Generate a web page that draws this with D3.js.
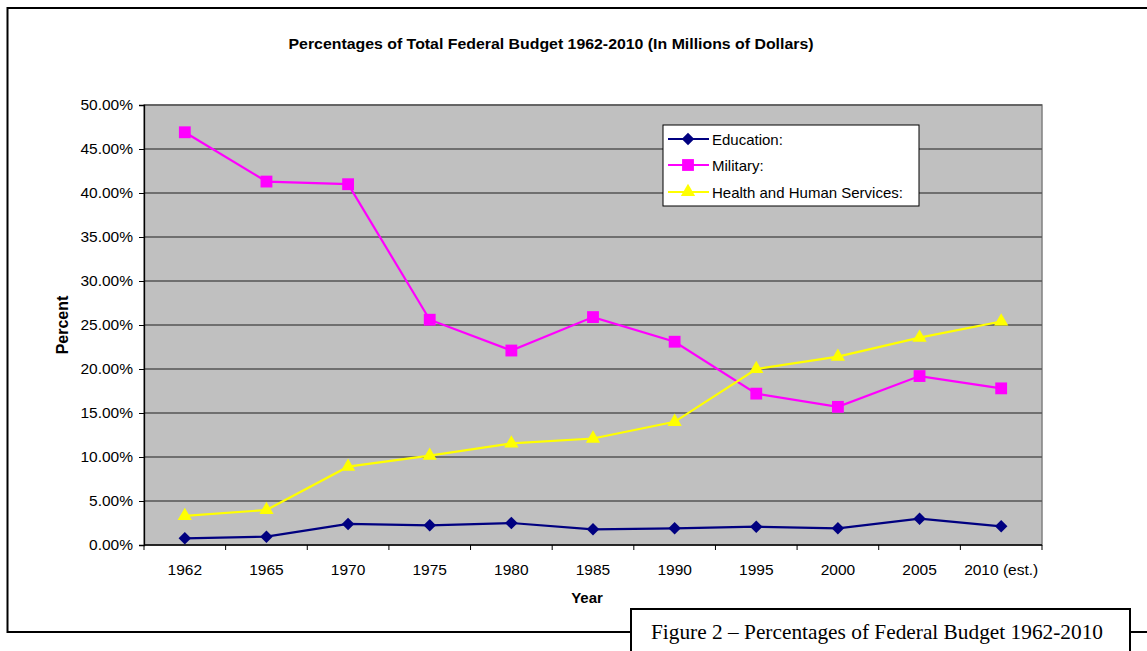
<!DOCTYPE html>
<html><head><meta charset="utf-8">
<script src="https://cdn.jsdelivr.net/npm/d3@7"></script>
<style>body{margin:0;background:#fff;} svg{display:block;}</style>
</head><body>
<svg id="c" width="1147" height="651"></svg>
<script>
const categories = ["1962","1965","1970","1975","1980","1985","1990","1995","2000","2005","2010 (est.)"];
const education = [0.76,0.95,2.39,2.24,2.50,1.78,1.90,2.08,1.90,2.99,2.12];
const military = [46.9,41.3,41.0,25.6,22.1,25.9,23.1,17.2,15.7,19.2,17.8];
const health = [3.3,3.98,8.9,10.15,11.55,12.1,14.0,20.0,21.4,23.56,25.4];
const yTicks = [0,5,10,15,20,25,30,35,40,45,50];
const seriesNames = ["Education:","Military:","Health and Human Services:"];

const svg = d3.select("#c");
const L=144, T=105, R=1042, B=545;
const font = "Liberation Sans, Arial, sans-serif";

// outer border
svg.append("path").attr("d","M1147,8 H7.5 V632 H631").attr("fill","none").attr("stroke","#000").attr("stroke-width",2);
svg.append("line").attr("x1",1130).attr("x2",1147).attr("y1",632).attr("y2",632).attr("stroke","#000").attr("stroke-width",2);

// title
svg.append("text").attr("x",551).attr("y",49).attr("text-anchor","middle")
  .attr("font-family",font).attr("font-weight","bold").attr("font-size",15.5)
  .attr("textLength",525).attr("lengthAdjust","spacingAndGlyphs")
  .text("Percentages of Total Federal Budget 1962-2010 (In Millions of Dollars)");

const x = d3.scaleBand().domain(categories).range([L,R]);
const y = d3.scaleLinear().domain([0,50]).range([B,T]);

svg.append("rect").attr("x",L).attr("y",T).attr("width",R-L).attr("height",B-T).attr("fill","#c0c0c0").attr("stroke","#808080").attr("stroke-width",1.5);

// gridlines
svg.append("g").selectAll("line").data(yTicks.filter(d=>d>0)).join("line")
  .attr("x1",L).attr("x2",R).attr("y1",d=>y(d)).attr("y2",d=>y(d))
  .attr("stroke","#555").attr("stroke-width",1.3);

// y axis
const yAxis = d3.axisLeft(y).tickValues(yTicks).tickSize(5).tickPadding(6).tickFormat(d=>d.toFixed(2)+"%");
const yg = svg.append("g").attr("transform",`translate(${L},0)`).call(yAxis);
yg.select(".domain").attr("stroke","#000").attr("stroke-width",1.3);
yg.selectAll(".tick line").attr("stroke","#000");
yg.selectAll("text").attr("font-family",font).attr("font-size",15.5).attr("fill","#000");

// x axis
const xg = svg.append("g").attr("transform",`translate(0,${B})`);
xg.append("line").attr("x1",L).attr("x2",R).attr("stroke","#000").attr("stroke-width",1.3);
const bounds = d3.range(categories.length+1).map(i=>L+i*x.step());
xg.selectAll("line.t").data(bounds).join("line").attr("class","t")
  .attr("x1",d=>d).attr("x2",d=>d).attr("y1",0).attr("y2",5).attr("stroke","#000");
xg.selectAll("text").data(categories).join("text")
  .attr("x",d=>x(d)+x.bandwidth()/2).attr("y",30).attr("text-anchor","middle")
  .attr("font-family",font).attr("font-size",15.5).text(d=>d);

svg.append("text").attr("x",587).attr("y",603).attr("text-anchor","middle").attr("font-family",font).attr("font-weight","bold").attr("font-size",15).text("Year");
svg.append("text").attr("transform","translate(68,325) rotate(-90)").attr("text-anchor","middle").attr("font-family",font).attr("font-weight","bold").attr("font-size",16).text("Percent");

const cx = d => x(d)+x.bandwidth()/2;
const line = d3.line().x((d,i)=>cx(categories[i])).y(d=>y(d));

const symbols = [
  {data:education,color:"#000080",sym:d3.symbolSquare,size:78,rot:45},
  {data:military,color:"#ff00ff",sym:d3.symbolSquare,size:140,rot:0},
  {data:health,color:"#ffff00",sym:d3.symbolTriangle,size:88,rot:0}
];
symbols.forEach(s=>{
  svg.append("path").datum(s.data).attr("d",line).attr("fill","none").attr("stroke",s.color).attr("stroke-width",2.2);
  svg.append("g").selectAll("path").data(s.data).join("path")
    .attr("d",d3.symbol().type(s.sym).size(s.size))
    .attr("transform",(d,i)=>`translate(${cx(categories[i])},${y(d)}) rotate(${s.rot})`)
    .attr("fill",s.color);
});

// legend
const lg = svg.append("g");
lg.append("rect").attr("x",663).attr("y",125).attr("width",256).attr("height",81).attr("fill","#fff").attr("stroke","#000").attr("stroke-width",1);
const ly = [139,165,192];
symbols.forEach((s,i)=>{
  lg.append("line").attr("x1",668).attr("x2",709).attr("y1",ly[i]).attr("y2",ly[i]).attr("stroke",s.color).attr("stroke-width",2.2);
  lg.append("path").attr("d",d3.symbol().type(s.sym).size(s.size)).attr("transform",`translate(688,${ly[i]}) rotate(${s.rot})`).attr("fill",s.color);
  lg.append("text").attr("x",712).attr("y",ly[i]+5.5).attr("font-family",font).attr("font-size",15).text(seriesNames[i]);
});

// caption box
svg.append("rect").attr("x",631).attr("y",609).attr("width",499).attr("height",60).attr("fill","#fff").attr("stroke","#000").attr("stroke-width",2);
svg.append("text").attr("x",651).attr("y",639).attr("font-family","Liberation Serif, Times New Roman, serif").attr("font-size",21)
  .attr("textLength",452).attr("lengthAdjust","spacingAndGlyphs")
  .text("Figure 2 \u2013 Percentages of Federal Budget 1962-2010");
</script>
</body></html>
